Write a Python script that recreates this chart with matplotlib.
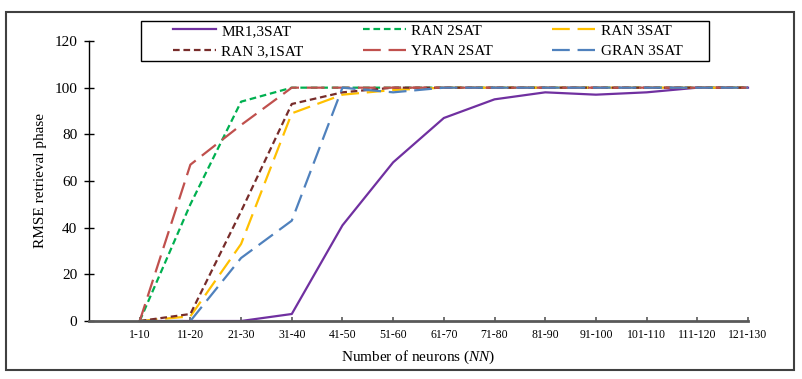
import matplotlib
matplotlib.use("Agg")
import matplotlib.pyplot as plt
from matplotlib.patches import Rectangle

plt.rcParams["font.family"] = ["Liberation Serif", "DejaVu Serif"]
plt.rcParams["mathtext.fontset"] = "custom"
plt.rcParams["mathtext.rm"] = "Liberation Serif"
plt.rcParams["mathtext.it"] = "Liberation Serif:italic"

CATEGORIES = ["1-10", "11-20", "21-30", "31-40", "41-50", "51-60", "61-70",
              "71-80", "81-90", "91-100", "101-110", "111-120", "121-130"]

MR1_3SAT  = [0, 0, 0, 3, 41, 68, 87, 95, 98, 97, 98, 100, 100]
RAN_2SAT  = [0, 50, 94, 100, 100, 100, 100, 100, 100, 100, 100, 100, 100]
RAN_3SAT  = [0, 2, 33, 89, 97, 99, 100, 100, 100, 100, 100, 100, 100]
RAN_31SAT = [0, 3, 47, 93, 98, 100, 100, 100, 100, 100, 100, 100, 100]
YRAN_2SAT = [0, 67, 84, 100, 100, 100, 100, 100, 100, 100, 100, 100, 100]
GRAN_3SAT = [0, 0, 27, 43, 100, 98, 100, 100, 100, 100, 100, 100, 100]

W, H = 802, 379
fig = plt.figure(figsize=(W / 100, H / 100), dpi=100)
ax = fig.add_axes([89 / W, 1 - 321 / H, (748 - 89) / W, (321 - 41) / H])

x = list(range(len(CATEGORIES)))
short_dash = (0, (3, 1.7))
long_dash = (0, (8, 3.5))
lw = 1.6

series = [
    ("MR1,3SAT", MR1_3SAT, "#7030A0", "-"),
    ("RAN 2SAT", RAN_2SAT, "#00B050", short_dash),
    ("RAN 3SAT", RAN_3SAT, "#FFC000", long_dash),
    ("RAN 3,1SAT", RAN_31SAT, "#772C2A", short_dash),
    ("YRAN 2SAT", YRAN_2SAT, "#C0504D", long_dash),
    ("GRAN 3SAT", GRAN_3SAT, "#4F81BD", long_dash),
]
lines = {}
for name, vals, color, ls in series:
    ln, = ax.plot(x, vals, color=color, linestyle=ls, linewidth=lw, label=name,
                  clip_on=False)
    lines[name] = ln

ax.set_xlim(-1, 12)
ax.set_ylim(0, 120)
ax.set_yticks(range(0, 121, 20))
ax.set_xticks(x)
ax.set_xticklabels(CATEGORIES, fontsize=8.5)
ax.tick_params(axis="y", direction="inout", length=7, width=1, labelsize=11, pad=5)
ax.tick_params(axis="x", direction="in", length=3, width=1.2, color="#595959", pad=6)

for side in ("top", "right"):
    ax.spines[side].set_visible(False)
ax.spines["left"].set_color("black")
ax.spines["left"].set_linewidth(1)
ax.spines["bottom"].set_color("#595959")
ax.spines["bottom"].set_linewidth(2)

ax.set_ylabel("RMSE retrieval phase", fontsize=11)
ax.yaxis.set_label_coords(-(89 - 47) / (748 - 89), 0.5)
ax.set_xlabel("Number of neurons ($\\mathit{NN}$)", fontsize=11)
ax.xaxis.set_label_coords(0.5, -(349 - 321) / (321 - 41))

# legend (column-major order for ncol=3)
order = ["MR1,3SAT", "RAN 3,1SAT", "RAN 2SAT", "YRAN 2SAT", "RAN 3SAT", "GRAN 3SAT"]
leg = fig.legend([lines[n] for n in order], order, loc="upper left",
                 bbox_to_anchor=(173 / W, 1 - 24 / H), ncol=3, frameon=False,
                 fontsize=11, handlelength=2.8, handletextpad=0.35,
                 columnspacing=3.9, labelspacing=0.45, borderpad=0, borderaxespad=0)

fig.patches.append(Rectangle((141 / W, 1 - 61 / H), (709 - 141) / W, (61 - 21) / H,
                             transform=fig.transFigure, fill=False,
                             edgecolor="black", linewidth=1))
fig.patches.append(Rectangle((6 / W, 1 - 370 / H), (794 - 6) / W, (370 - 12) / H,
                             transform=fig.transFigure, fill=False,
                             edgecolor="#404040", linewidth=1.5))

fig.savefig("out.png", dpi=100)
